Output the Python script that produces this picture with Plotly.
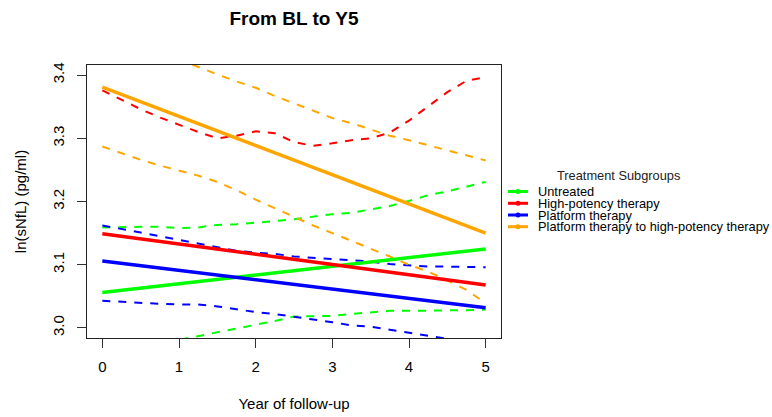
import plotly.graph_objects as go

# ---------------- data ----------------
years = [0, 1, 2, 3, 4, 5]
ci_x = [0, 0.25, 0.5, 0.75, 1.0, 1.25, 1.5, 1.75, 2.0, 2.25, 2.5,
        2.75, 3.0, 3.25, 3.5, 3.75, 4.0, 4.25, 4.5, 4.75, 5.0]

groups = ["Untreated", "High-potency therapy", "Platform therapy",
          "Platform therapy to high-potency therapy"]
colors = ["#00FF00", "#FF0000", "#0000FF", "#FFA500"]

fit_untreated = [3.056, 3.070, 3.084, 3.097, 3.111, 3.125]
fit_high = [3.149, 3.133, 3.117, 3.100, 3.084, 3.068]
fit_platform = [3.106, 3.091, 3.076, 3.062, 3.047, 3.032]
fit_switch = [3.381, 3.335, 3.289, 3.242, 3.196, 3.150]

up_untreated = [3.159, 3.160, 3.160, 3.160, 3.158, 3.159, 3.163, 3.164, 3.166, 3.169, 3.172,
                3.176, 3.180, 3.182, 3.187, 3.193, 3.201, 3.210, 3.216, 3.224, 3.231]
lo_untreated = [2.955, 2.962, 2.968, 2.975, 2.981, 2.987, 2.993, 2.998, 3.005, 3.011, 3.018,
                3.018, 3.019, 3.022, 3.025, 3.027, 3.027, 3.027, 3.027, 3.028, 3.029]
up_high = [3.376, 3.361, 3.346, 3.333, 3.321, 3.310, 3.300, 3.304, 3.311, 3.308, 3.294,
           3.288, 3.292, 3.297, 3.300, 3.309, 3.328, 3.351, 3.373, 3.391, 3.397]
up_platform = [3.162, 3.157, 3.151, 3.145, 3.139, 3.133, 3.127, 3.122, 3.119, 3.117, 3.113,
               3.111, 3.110, 3.108, 3.105, 3.101, 3.099, 3.097, 3.097, 3.096, 3.096]
lo_platform = [3.043, 3.041, 3.039, 3.038, 3.037, 3.037, 3.034, 3.029, 3.025, 3.022, 3.018,
               3.013, 3.009, 3.004, 3.002, 2.997, 2.992, 2.987, 2.982, 2.978, 2.974]
up_switch = [3.470, 3.460, 3.448, 3.437, 3.425, 3.412, 3.401, 3.390, 3.380, 3.367, 3.355,
             3.343, 3.332, 3.324, 3.314, 3.304, 3.297, 3.289, 3.280, 3.272, 3.265]
lo_switch = [3.287, 3.276, 3.266, 3.257, 3.249, 3.241, 3.231, 3.218, 3.203, 3.189, 3.175,
             3.162, 3.150, 3.138, 3.126, 3.113, 3.100, 3.089, 3.075, 3.060, 3.039]

x_ticks = [0, 1, 2, 3, 4, 5]
y_ticks = [3.0, 3.1, 3.2, 3.3, 3.4]
y_tick_text = ["3.0", "3.1", "3.2", "3.3", "3.4"]

fits = [fit_untreated, fit_high, fit_platform, fit_switch]
bands = [[up_untreated, lo_untreated], [up_high], [up_platform, lo_platform],
         [up_switch, lo_switch]]

FONT = "Liberation Sans, Arial, sans-serif"

fig = go.Figure()
for name, col, bl in zip(groups, colors, bands):
    for b in bl:
        fig.add_trace(go.Scatter(x=ci_x, y=b, mode="lines", showlegend=False,
                                 line=dict(color=col, width=2, dash="8px,8px"),
                                 name=name + " CI", hoverinfo="skip"))
for name, col, f in zip(groups, colors, fits):
    fig.add_trace(go.Scatter(x=years, y=f, mode="lines", name=name, showlegend=False,
                             line=dict(color=col, width=3.5)))

# plot area geometry (pixels)
W, H = 772, 417
L, R, T, B = 87, 501, 65, 338

def px(xp):
    return (xp - L) / (R - L)

def py(yp):
    return (B - yp) / (B - T)

shapes = []
annotations = []
annotations.append(dict(text="Treatment Subgroups", x=px(618), y=py(175), xref="paper", yref="paper",
                        showarrow=False, xanchor="center", yanchor="middle",
                        font=dict(family=FONT, size=12.8, color="#222")))
row_y = [191.5, 203.3, 215, 226.7]
for name, col, ry in zip(groups, colors, row_y):
    shapes.append(dict(type="line", xref="paper", yref="paper", x0=px(508), x1=px(528),
                       y0=py(ry), y1=py(ry), line=dict(color=col, width=3)))
    shapes.append(dict(type="circle", xref="paper", yref="paper", x0=px(515.5), x1=px(520.5),
                       y0=py(ry + 2.5), y1=py(ry - 2.5), fillcolor=col, line=dict(color=col, width=0)))
    annotations.append(dict(text=name, x=px(536), y=py(ry), xref="paper", yref="paper",
                            showarrow=False, xanchor="left", yanchor="middle",
                            font=dict(family=FONT, size=12.8, color="black")))

fig.update_layout(
    width=W, height=H,
    margin=dict(l=L, r=W - R, t=T, b=H - B, pad=0, autoexpand=False),
    paper_bgcolor="white", plot_bgcolor="white",
    font=dict(family=FONT, color="black"),
    title=dict(text="<b>From BL to Y5</b>", x=px(294), xref="paper", xanchor="center",
               y=1 - 18 / H, yref="container", yanchor="middle",
               font=dict(family=FONT, size=19, color="black")),
    shapes=shapes, annotations=annotations,
    showlegend=False,
)
fig.update_xaxes(range=[-0.2, 5.2], tickvals=x_ticks, ticks="outside", ticklen=9,
                 tickcolor="#333", showline=True, linecolor="#222", linewidth=1, mirror=True,
                 showgrid=False, zeroline=False, tickfont=dict(size=15, family=FONT),
                 title=dict(text="Year of follow-up", font=dict(size=15, family=FONT), standoff=24),
                 ticklabelstandoff=6, automargin=False)
fig.update_yaxes(range=[2.984, 3.416], tickvals=y_ticks, ticktext=y_tick_text, ticks="outside",
                 ticklen=9, tickcolor="#333", showline=True, linecolor="#222", linewidth=1,
                 mirror=True, showgrid=False, zeroline=False, tickangle=-90,
                 tickfont=dict(size=15, family=FONT),
                 title=dict(text="ln(sNfL) (pg/ml)", font=dict(size=15, family=FONT), standoff=19),
                 ticklabelstandoff=7, automargin=False)

fig.write_html("out.html")
